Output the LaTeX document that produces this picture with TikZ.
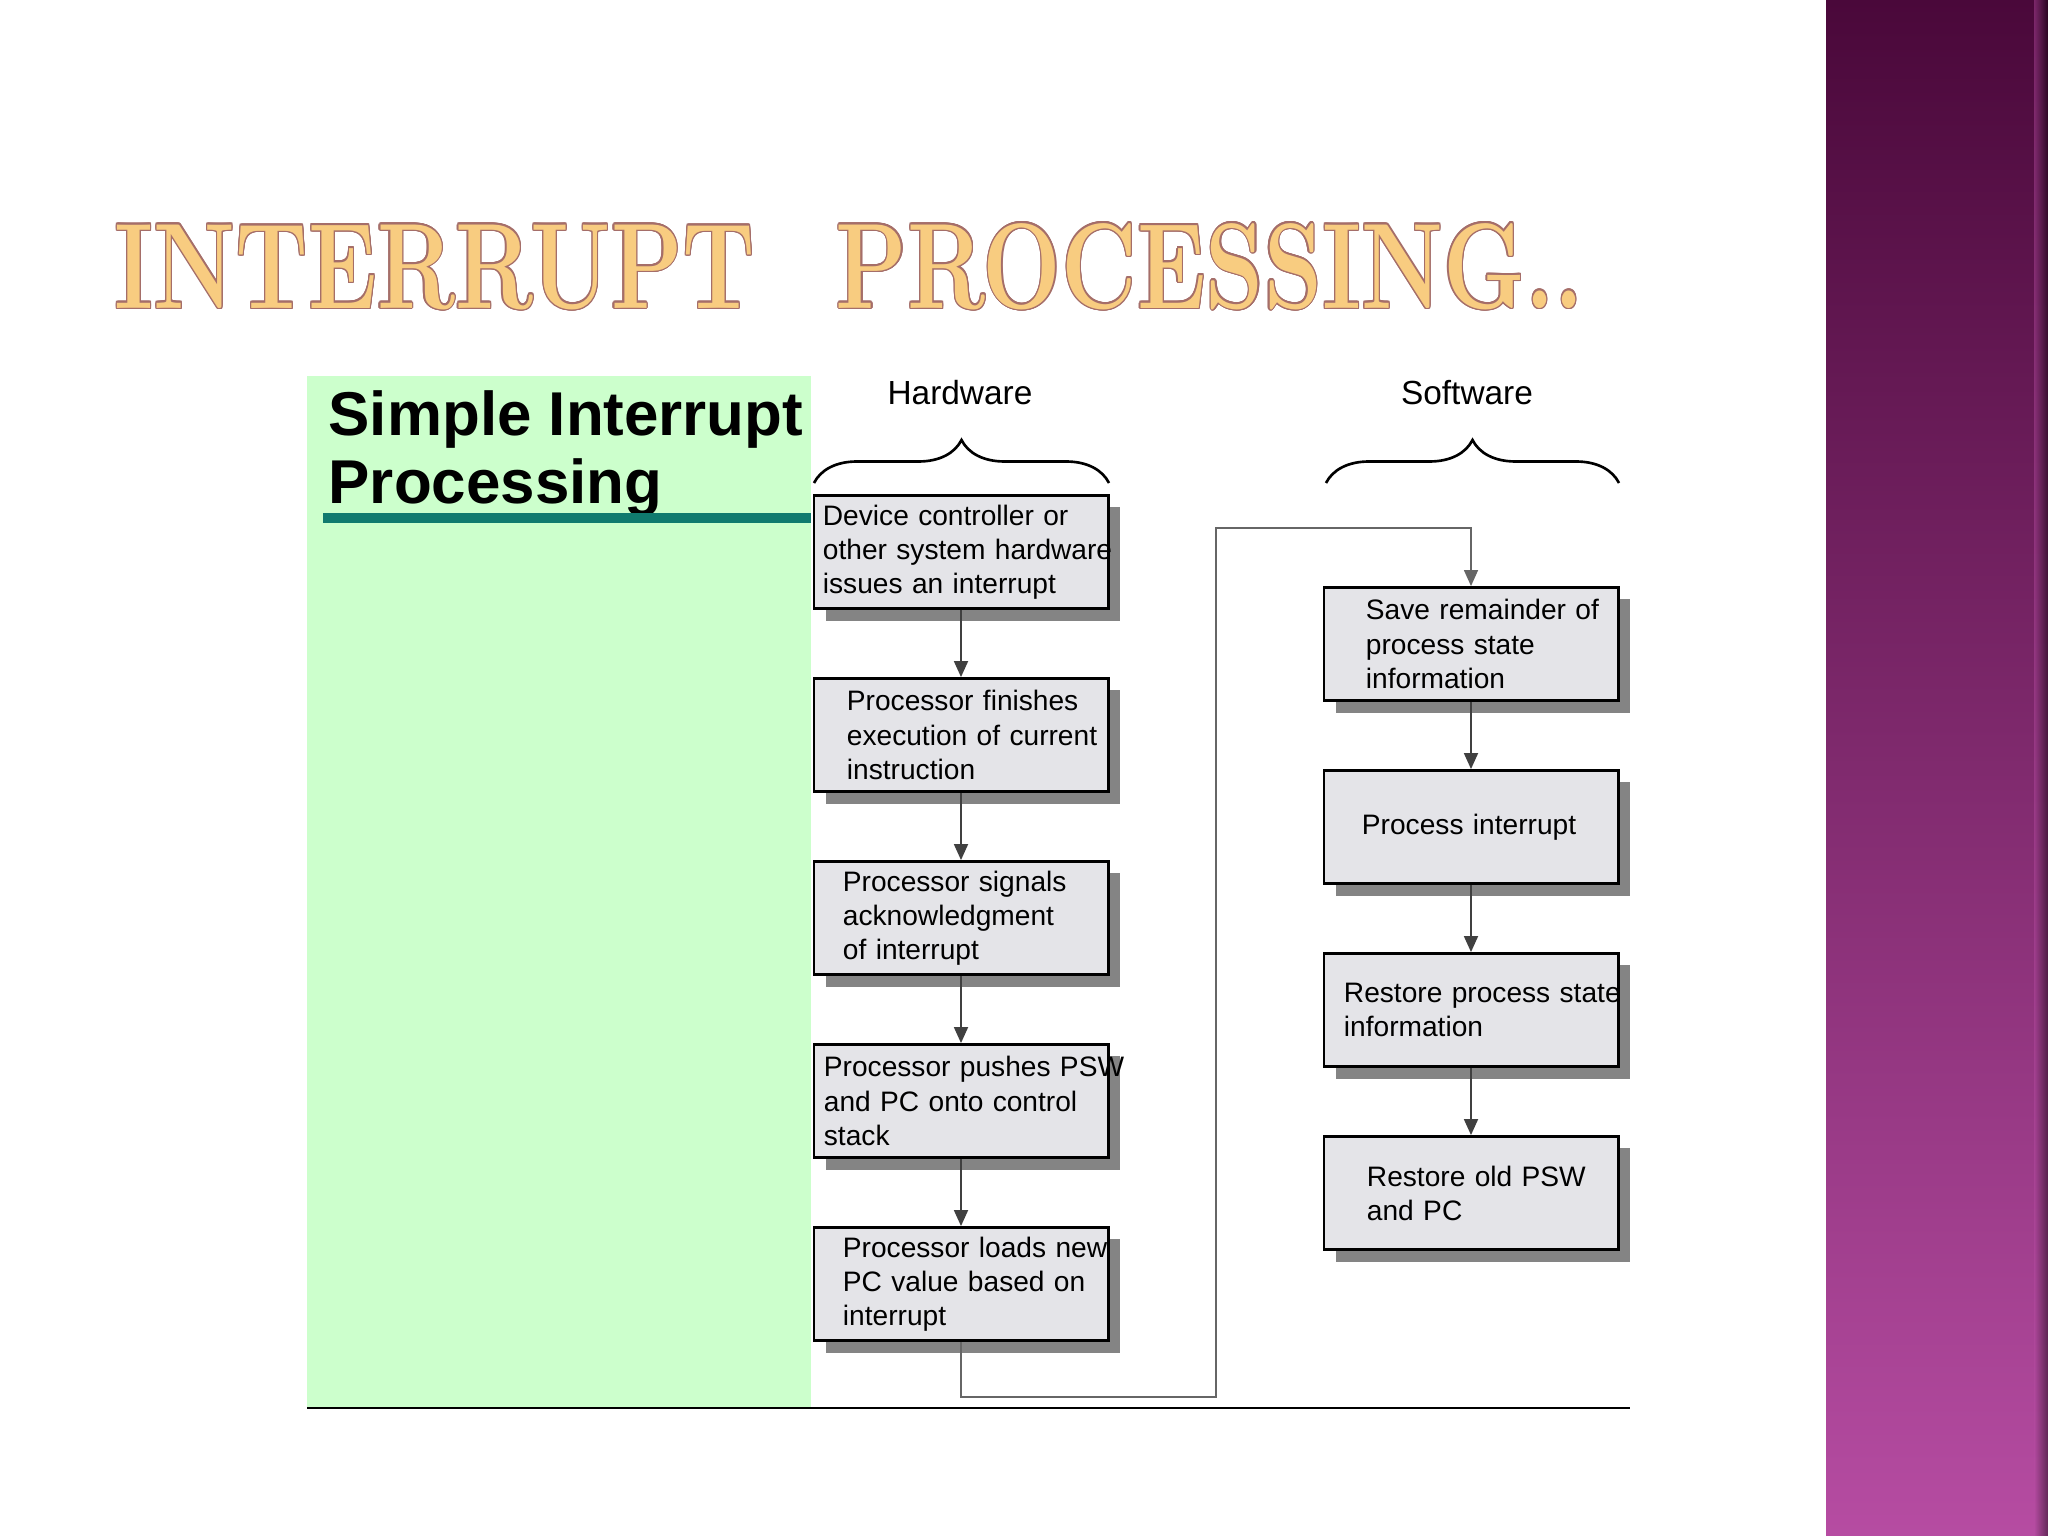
\documentclass[tikz,border=0pt]{standalone}
\usepackage{fontspec}
\setsansfont{Liberation Sans}
\usepackage{contour}
\usetikzlibrary{arrows.meta, shadows, decorations.pathreplacing}

\definecolor{panelgreen}{RGB}{204,255,204}
\definecolor{tealbar}{RGB}{16,122,110}
\definecolor{boxgrey}{RGB}{228,228,232}
\definecolor{shadowgrey}{RGB}{132,132,132}
\definecolor{titlefill}{RGB}{248,204,128}
\definecolor{titleedge}{RGB}{165,110,105}
\definecolor{bandtop}{RGB}{74,8,58}
\definecolor{bandbot}{RGB}{182,76,162}

\contourlength{0.45pt}

\tikzset{
  stepbox/.style={draw=black, line width=0.8pt, fill=boxgrey,
    text width=2.94cm, inner xsep=0pt, inner ysep=2pt, minimum height=1.13cm,
    align=left, font=\sffamily\fontsize{8}{9.7}\selectfont,
    execute at begin node={\leftskip=#1\relax},
    drop shadow={shadow xshift=0.12cm, shadow yshift=-0.12cm, fill=shadowgrey, opacity=1}},
  stepbox/.default=0.1cm,
  flow/.style={draw=black!75, line width=0.5pt, -{Triangle[length=1.6mm, width=1.4mm]}},
  sidebrace/.style={decorate, decoration={brace, amplitude=0.43cm}, line width=0.75pt},
  sidelabel/.style={font=\sffamily\fontsize{9.5}{11}\selectfont}
}

\begin{document}
\begin{tikzpicture}[x=0.01cm, y=-0.01cm]
\useasboundingbox (0,0) rectangle (2048,1536);
\fill[white] (0,0) rectangle (2048,1536);

% purple side band
\shade[top color=bandtop, bottom color=bandbot] (1826,0) rectangle (2048,1536);
\shade[left color=bandbot, right color=black, opacity=0.45] (2034,0) rectangle (2048,1536);

% slide title
\node[anchor=base west, inner sep=0pt, text=titlefill,
  font=\bfseries\fontsize{34.6}{40}\selectfont] (title) at (114,308)
  {\scalebox{0.765}[1]{\contour{titleedge}{INTERRUPT\hspace{30pt}PROCESSING..}}};

% green panel with heading
\fill[panelgreen] (307,376) rectangle (811,1408);
\node[anchor=base west, inner sep=0pt, font=\sffamily\bfseries\fontsize{17.6}{20}\selectfont]
  (heading1) at (328,435) {Simple Interrupt};
\node[anchor=base west, inner sep=0pt, font=\sffamily\bfseries\fontsize{17.6}{20}\selectfont]
  (heading2) at (328,503) {Processing};
\fill[tealbar] (323,513) rectangle (811,523);
\draw[line width=0.7pt] (307,1408) -- (1630,1408);

% column headings and braces
\node[sidelabel] (hwlabel) at (960,393) {Hardware};
\node[sidelabel] (swlabel) at (1467,393) {Software};
\draw[sidebrace] (814,483) -- (1109,483);
\draw[sidebrace] (1326,483) -- (1619,483);

% hardware steps
\node[stepbox=0.09cm] (hw1) at (961,552) {Device controller or\\\mbox{other system hardware}\\issues an interrupt};
\node[stepbox=0.33cm] (hw2) at (961,735) {Processor finishes\\execution of current\\instruction};
\node[stepbox=0.29cm] (hw3) at (961,918) {Processor signals\\acknowledgment\\of interrupt};
\node[stepbox=0.10cm] (hw4) at (961,1101) {\mbox{Processor pushes PSW}\\and PC onto control\\stack};
\node[stepbox=0.29cm] (hw5) at (961,1284) {\mbox{Processor loads new}\\PC value based on\\interrupt};

% software steps
\node[stepbox=0.42cm] (sw1) at (1471,644) {Save remainder of\\process state\\information};
\node[stepbox=0.38cm] (sw2) at (1471,827) {Process interrupt};
\node[stepbox=0.20cm] (sw3) at (1471,1010) {\mbox{Restore process state}\\information};
\node[stepbox=0.43cm] (sw4) at (1471,1193) {Restore old PSW\\and PC};

\foreach \a/\b in {hw1/hw2,hw2/hw3,hw3/hw4,hw4/hw5,sw1/sw2,sw2/sw3,sw3/sw4}
  \draw[flow] (\a.south) -- (\b.north);

% hand-over from hardware to software
\coordinate (loopA) at (1216,1397);
\coordinate (loopB) at (1216,528);
\draw[flow, draw=black!60, line width=0.4pt] (hw5.south) |- (loopA) -- (loopB) -| (sw1.north);
\end{tikzpicture}
\end{document}
